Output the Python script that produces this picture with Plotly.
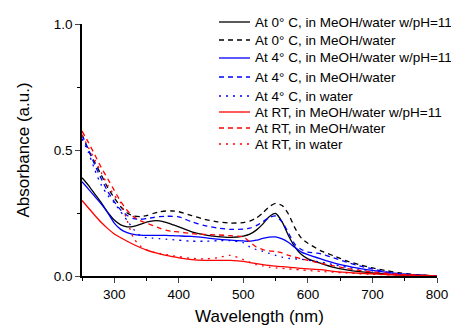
import plotly.graph_objects as go

wavelength = [250, 260, 270, 280, 290, 300, 310, 320, 330, 340, 350, 360, 370, 380, 390, 400,
              420, 440, 460, 480, 500, 510, 520, 530, 540, 550, 560, 570, 580, 590, 600,
              620, 640, 660, 680, 700, 720, 740, 760, 780, 800]

c0_ph11 = [0.39, 0.36, 0.325, 0.29, 0.252, 0.222, 0.203, 0.195, 0.197, 0.205, 0.214, 0.219, 0.219, 0.213, 0.204, 0.195,
           0.175, 0.163, 0.156, 0.153, 0.158, 0.166, 0.182, 0.206, 0.235, 0.248, 0.215, 0.16, 0.115, 0.085, 0.068,
           0.05, 0.034, 0.024, 0.017, 0.012, 0.008, 0.005, 0.003, 0.002, 0.0]
c0_meoh = [0.56, 0.5, 0.45, 0.4, 0.35, 0.31, 0.275, 0.25, 0.238, 0.236, 0.24, 0.248, 0.255, 0.258, 0.258, 0.255,
           0.24, 0.225, 0.215, 0.21, 0.212, 0.218, 0.23, 0.25, 0.275, 0.288, 0.28, 0.245, 0.19, 0.15, 0.13,
           0.1, 0.08, 0.06, 0.045, 0.032, 0.022, 0.013, 0.007, 0.003, 0.0]
c4_ph11 = [0.374, 0.345, 0.315, 0.285, 0.25, 0.21, 0.185, 0.172, 0.165, 0.162, 0.161, 0.161, 0.161, 0.161, 0.16, 0.159,
           0.157, 0.152, 0.146, 0.142, 0.139, 0.138, 0.142, 0.149, 0.154, 0.155, 0.147, 0.133, 0.113, 0.095, 0.085,
           0.068, 0.052, 0.04, 0.03, 0.022, 0.015, 0.009, 0.005, 0.002, 0.0]
c4_meoh = [0.56, 0.5, 0.44, 0.385, 0.335, 0.295, 0.262, 0.24, 0.228, 0.225, 0.228, 0.232, 0.236, 0.237, 0.237, 0.235,
           0.215, 0.2, 0.19, 0.185, 0.186, 0.19, 0.2, 0.215, 0.232, 0.238, 0.215, 0.17, 0.125, 0.105, 0.095,
           0.088, 0.072, 0.055, 0.04, 0.028, 0.016, 0.009, 0.005, 0.002, 0.0]
c4_water = [0.545, 0.49, 0.42, 0.36, 0.32, 0.29, 0.255, 0.22, 0.185, 0.16, 0.152, 0.15, 0.148, 0.146, 0.144, 0.142,
            0.138, 0.138, 0.14, 0.14, 0.132, 0.115, 0.105, 0.098, 0.09, 0.082, 0.075, 0.07, 0.068, 0.066, 0.063,
            0.055, 0.045, 0.035, 0.027, 0.02, 0.014, 0.009, 0.005, 0.002, 0.0]
rt_ph11 = [0.3, 0.27, 0.24, 0.212, 0.188, 0.167, 0.152, 0.138, 0.125, 0.113, 0.103, 0.095, 0.088, 0.082, 0.077, 0.072,
           0.065, 0.062, 0.062, 0.062, 0.058, 0.053, 0.049, 0.045, 0.042, 0.039, 0.037, 0.035, 0.033, 0.03, 0.028,
           0.025, 0.018, 0.014, 0.011, 0.009, 0.006, 0.004, 0.003, 0.002, 0.0]
rt_meoh = [0.575, 0.53, 0.48, 0.43, 0.385, 0.34, 0.295, 0.26, 0.235, 0.22, 0.21, 0.2, 0.19, 0.182, 0.177, 0.175,
           0.168, 0.165, 0.163, 0.16, 0.155, 0.135, 0.115, 0.105, 0.1, 0.097, 0.092, 0.082, 0.075, 0.068, 0.062,
           0.05, 0.04, 0.03, 0.022, 0.016, 0.011, 0.007, 0.004, 0.002, 0.0]
rt_water = [0.56, 0.51, 0.46, 0.41, 0.36, 0.32, 0.29, 0.22, 0.15, 0.12, 0.105, 0.095, 0.09, 0.085, 0.08, 0.077,
            0.07, 0.068, 0.072, 0.082, 0.065, 0.055, 0.045, 0.04, 0.035, 0.032, 0.03, 0.028, 0.026, 0.024, 0.022,
            0.018, 0.015, 0.012, 0.009, 0.007, 0.005, 0.003, 0.002, 0.001, 0.0]

names = ["At 0° C, in MeOH/water w/pH=11", "At 0° C, in MeOH/water",
         "At 4° C, in MeOH/water w/pH=11", "At 4° C, in MeOH/water", "At 4° C, in water",
         "At RT, in MeOH/water w/pH=11", "At RT, in MeOH/water", "At RT, in water"]
series = [c0_ph11, c0_meoh, c4_ph11, c4_meoh, c4_water, rt_ph11, rt_meoh, rt_water]
colors = ["black", "black", "#0000FF", "#0000FF", "#0000FF", "#FF0000", "#FF0000", "#FF0000"]
dashes = ["solid", "5px,4px", "solid", "5px,4px", "2px,5px", "solid", "5px,4px", "2px,5px"]

# figure geometry (pixels)
W, H = 451, 326
ML, MR, MT, MB = 82, 14, 24, 50
PW, PH = W - ML - MR, H - MT - MB

def px_x(px):
    return (px - ML) / PW

def px_y(py):
    return (H - MB - py) / PH

legend_rows = [22, 40, 58, 77, 96, 112, 128, 144]
legend_line_x = (219, 250)
legend_text_x = 253

font = "Liberation Sans, Arial, sans-serif"
fig = go.Figure()
shapes, annotations = [], []
for n, s, c, d, ry in zip(names, series, colors, dashes, legend_rows):
    fig.add_trace(go.Scatter(x=wavelength, y=s, name=n, mode="lines", showlegend=False,
                             line=dict(color=c, dash=d, width=1.3, shape="spline", smoothing=0.6)))
    shapes.append(dict(type="line", xref="paper", yref="paper",
                       x0=px_x(legend_line_x[0]), x1=px_x(legend_line_x[1]), y0=px_y(ry), y1=px_y(ry),
                       line=dict(color=c, dash=d, width=1.3)))
    annotations.append(dict(xref="paper", yref="paper", x=px_x(legend_text_x), y=px_y(ry),
                            xanchor="left", yanchor="middle", text=n, showarrow=False,
                            font=dict(family=font, size=13.5, color="black")))

fig.update_layout(
    width=W, height=H,
    margin=dict(l=ML, r=MR, t=MT, b=MB, autoexpand=False),
    paper_bgcolor="white", plot_bgcolor="white",
    font=dict(family=font, size=13.5, color="black"),
    showlegend=False,
    shapes=shapes, annotations=annotations,
    xaxis=dict(range=[250, 800], tickvals=[300, 400, 500, 600, 700, 800], ticks="outside",
               ticklen=5, tickwidth=1, showline=True, linecolor="black", linewidth=1.5,
               showgrid=False, zeroline=False, mirror=False,
               minor=dict(tickvals=[250, 350, 450, 550, 650, 750], ticks="outside", ticklen=3, tickcolor="black"),
               title=dict(text="Wavelength (nm)", font=dict(size=17), standoff=9),
               tickfont=dict(size=13.5)),
    yaxis=dict(range=[0, 1.0], tickvals=[0, 0.5, 1.0], ticktext=["0.0", "0.5", "1.0"], ticks="outside",
               ticklen=5, tickwidth=1, showline=True, linecolor="black", linewidth=1.5,
               showgrid=False, zeroline=False,
               minor=dict(tickvals=[0.25, 0.75], ticks="outside", ticklen=3, tickcolor="black"),
               title=dict(text="Absorbance (a.u.)", font=dict(size=17), standoff=20),
               tickfont=dict(size=13.5)),
)
fig.write_html("out.html")
